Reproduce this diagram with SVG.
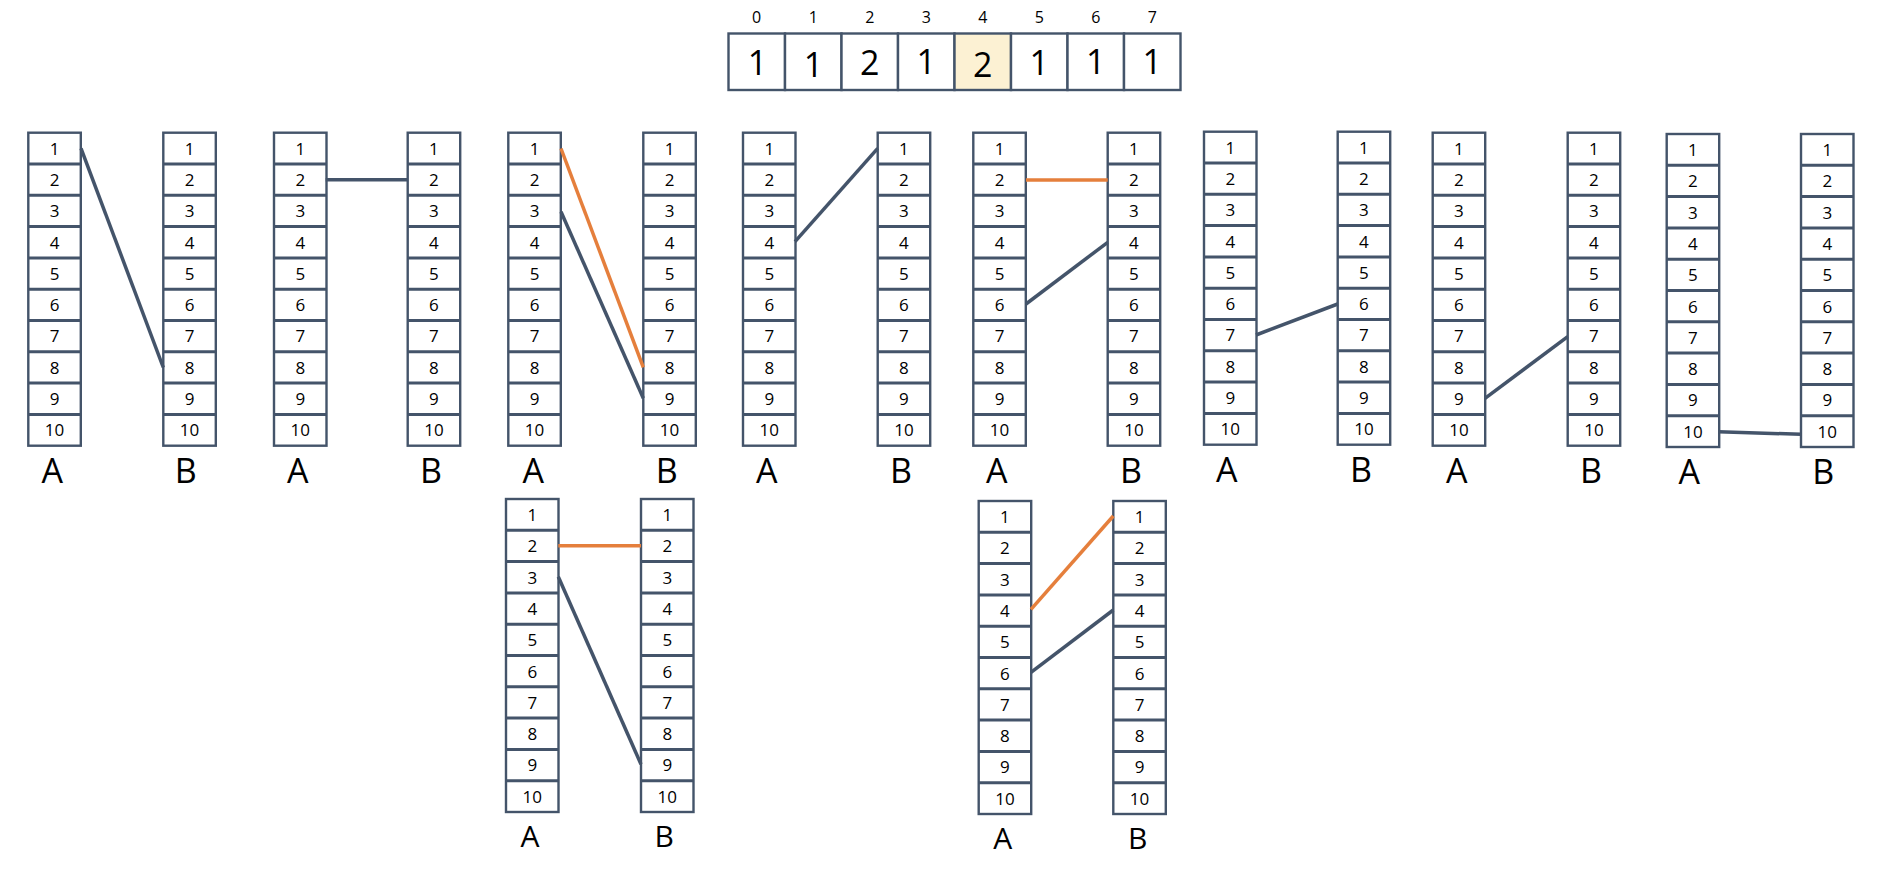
<svg xmlns="http://www.w3.org/2000/svg" width="1882" height="876" viewBox="0 0 1882 876">
<style>
.bg{fill:#fff}
.c{fill:#fff;stroke:#44546A;stroke-width:2.4}
.d{fill:none;stroke:#44546A;stroke-width:3}
.hl{fill:#FCF1D3}
.n{font-family:"Open Sans","Liberation Sans",sans-serif;font-size:17px;text-anchor:middle;fill:#000}
.idx{font-family:"Open Sans","Liberation Sans",sans-serif;font-size:16px;text-anchor:middle;fill:#000}
.big{font-family:"Open Sans","Liberation Sans",sans-serif;font-size:34px;text-anchor:middle;fill:#000}
.lbl{font-family:"Open Sans","Liberation Sans",sans-serif;font-size:34px;text-anchor:middle;fill:#000}
.lbl2{font-family:"Open Sans","Liberation Sans",sans-serif;font-size:30px;text-anchor:middle;fill:#000}
.ln{fill:none;stroke:#44546A;stroke-width:3.5}
.or{fill:none;stroke:#E57F3C;stroke-width:3.5}
</style>
<rect class="bg" x="0" y="0" width="1882" height="876"/>

<g id="array">
<text class="idx" x="756.7" y="23">0</text>
<text class="idx" x="813.3" y="23">1</text>
<text class="idx" x="869.8" y="23">2</text>
<text class="idx" x="926.3" y="23">3</text>
<text class="idx" x="982.8" y="23">4</text>
<text class="idx" x="1039.3" y="23">5</text>
<text class="idx" x="1095.8" y="23">6</text>
<text class="idx" x="1152.3" y="23">7</text>
<rect class="c" x="728.5" y="33.5" width="56.5" height="56.5"/>
<rect class="c" x="785" y="33.5" width="56.5" height="56.5"/>
<rect class="c" x="841.5" y="33.5" width="56.5" height="56.5"/>
<rect class="c" x="898" y="33.5" width="56.5" height="56.5"/>
<rect class="c hl" x="954.5" y="33.5" width="56.5" height="56.5"/>
<rect class="c" x="1011" y="33.5" width="56.5" height="56.5"/>
<rect class="c" x="1067.5" y="33.5" width="56.5" height="56.5"/>
<rect class="c" x="1124" y="33.5" width="56.5" height="56.5"/>
<text class="big" x="757.5" y="75">1</text>
<text class="big" x="813.5" y="77">1</text>
<text class="big" x="869.8" y="75">2</text>
<text class="big" x="926.3" y="74">1</text>
<text class="big" x="982.8" y="77">2</text>
<text class="big" x="1039.3" y="75">1</text>
<text class="big" x="1095.8" y="74">1</text>
<text class="big" x="1152.3" y="74">1</text>
</g>

<g id="p1-a" transform="translate(28.3,132.7)"><rect class="c" width="52.5" height="313"/><path class="d" d="M0 31.3H52.5M0 62.6H52.5M0 93.9H52.5M0 125.2H52.5M0 156.5H52.5M0 187.8H52.5M0 219.1H52.5M0 250.4H52.5M0 281.7H52.5"/><text class="n" x="26.25" y="22">1</text><text class="n" x="26.25" y="53.3">2</text><text class="n" x="26.25" y="84.6">3</text><text class="n" x="26.25" y="115.9">4</text><text class="n" x="26.25" y="147.2">5</text><text class="n" x="26.25" y="178.5">6</text><text class="n" x="26.25" y="209.8">7</text><text class="n" x="26.25" y="241.1">8</text><text class="n" x="26.25" y="272.4">9</text><text class="n" x="26.25" y="303.7">10</text></g>
<g id="p1-b" transform="translate(163.3,132.7)"><rect class="c" width="52.5" height="313"/><path class="d" d="M0 31.3H52.5M0 62.6H52.5M0 93.9H52.5M0 125.2H52.5M0 156.5H52.5M0 187.8H52.5M0 219.1H52.5M0 250.4H52.5M0 281.7H52.5"/><text class="n" x="26.25" y="22">1</text><text class="n" x="26.25" y="53.3">2</text><text class="n" x="26.25" y="84.6">3</text><text class="n" x="26.25" y="115.9">4</text><text class="n" x="26.25" y="147.2">5</text><text class="n" x="26.25" y="178.5">6</text><text class="n" x="26.25" y="209.8">7</text><text class="n" x="26.25" y="241.1">8</text><text class="n" x="26.25" y="272.4">9</text><text class="n" x="26.25" y="303.7">10</text></g>
<g id="p2-a" transform="translate(274,132.7)"><rect class="c" width="52.5" height="313"/><path class="d" d="M0 31.3H52.5M0 62.6H52.5M0 93.9H52.5M0 125.2H52.5M0 156.5H52.5M0 187.8H52.5M0 219.1H52.5M0 250.4H52.5M0 281.7H52.5"/><text class="n" x="26.25" y="22">1</text><text class="n" x="26.25" y="53.3">2</text><text class="n" x="26.25" y="84.6">3</text><text class="n" x="26.25" y="115.9">4</text><text class="n" x="26.25" y="147.2">5</text><text class="n" x="26.25" y="178.5">6</text><text class="n" x="26.25" y="209.8">7</text><text class="n" x="26.25" y="241.1">8</text><text class="n" x="26.25" y="272.4">9</text><text class="n" x="26.25" y="303.7">10</text></g>
<g id="p2-b" transform="translate(407.7,132.7)"><rect class="c" width="52.5" height="313"/><path class="d" d="M0 31.3H52.5M0 62.6H52.5M0 93.9H52.5M0 125.2H52.5M0 156.5H52.5M0 187.8H52.5M0 219.1H52.5M0 250.4H52.5M0 281.7H52.5"/><text class="n" x="26.25" y="22">1</text><text class="n" x="26.25" y="53.3">2</text><text class="n" x="26.25" y="84.6">3</text><text class="n" x="26.25" y="115.9">4</text><text class="n" x="26.25" y="147.2">5</text><text class="n" x="26.25" y="178.5">6</text><text class="n" x="26.25" y="209.8">7</text><text class="n" x="26.25" y="241.1">8</text><text class="n" x="26.25" y="272.4">9</text><text class="n" x="26.25" y="303.7">10</text></g>
<g id="p3-a" transform="translate(508.3,132.7)"><rect class="c" width="52.5" height="313"/><path class="d" d="M0 31.3H52.5M0 62.6H52.5M0 93.9H52.5M0 125.2H52.5M0 156.5H52.5M0 187.8H52.5M0 219.1H52.5M0 250.4H52.5M0 281.7H52.5"/><text class="n" x="26.25" y="22">1</text><text class="n" x="26.25" y="53.3">2</text><text class="n" x="26.25" y="84.6">3</text><text class="n" x="26.25" y="115.9">4</text><text class="n" x="26.25" y="147.2">5</text><text class="n" x="26.25" y="178.5">6</text><text class="n" x="26.25" y="209.8">7</text><text class="n" x="26.25" y="241.1">8</text><text class="n" x="26.25" y="272.4">9</text><text class="n" x="26.25" y="303.7">10</text></g>
<g id="p3-b" transform="translate(643.3,132.7)"><rect class="c" width="52.5" height="313"/><path class="d" d="M0 31.3H52.5M0 62.6H52.5M0 93.9H52.5M0 125.2H52.5M0 156.5H52.5M0 187.8H52.5M0 219.1H52.5M0 250.4H52.5M0 281.7H52.5"/><text class="n" x="26.25" y="22">1</text><text class="n" x="26.25" y="53.3">2</text><text class="n" x="26.25" y="84.6">3</text><text class="n" x="26.25" y="115.9">4</text><text class="n" x="26.25" y="147.2">5</text><text class="n" x="26.25" y="178.5">6</text><text class="n" x="26.25" y="209.8">7</text><text class="n" x="26.25" y="241.1">8</text><text class="n" x="26.25" y="272.4">9</text><text class="n" x="26.25" y="303.7">10</text></g>
<g id="p4-a" transform="translate(743,132.7)"><rect class="c" width="52.5" height="313"/><path class="d" d="M0 31.3H52.5M0 62.6H52.5M0 93.9H52.5M0 125.2H52.5M0 156.5H52.5M0 187.8H52.5M0 219.1H52.5M0 250.4H52.5M0 281.7H52.5"/><text class="n" x="26.25" y="22">1</text><text class="n" x="26.25" y="53.3">2</text><text class="n" x="26.25" y="84.6">3</text><text class="n" x="26.25" y="115.9">4</text><text class="n" x="26.25" y="147.2">5</text><text class="n" x="26.25" y="178.5">6</text><text class="n" x="26.25" y="209.8">7</text><text class="n" x="26.25" y="241.1">8</text><text class="n" x="26.25" y="272.4">9</text><text class="n" x="26.25" y="303.7">10</text></g>
<g id="p4-b" transform="translate(877.7,132.7)"><rect class="c" width="52.5" height="313"/><path class="d" d="M0 31.3H52.5M0 62.6H52.5M0 93.9H52.5M0 125.2H52.5M0 156.5H52.5M0 187.8H52.5M0 219.1H52.5M0 250.4H52.5M0 281.7H52.5"/><text class="n" x="26.25" y="22">1</text><text class="n" x="26.25" y="53.3">2</text><text class="n" x="26.25" y="84.6">3</text><text class="n" x="26.25" y="115.9">4</text><text class="n" x="26.25" y="147.2">5</text><text class="n" x="26.25" y="178.5">6</text><text class="n" x="26.25" y="209.8">7</text><text class="n" x="26.25" y="241.1">8</text><text class="n" x="26.25" y="272.4">9</text><text class="n" x="26.25" y="303.7">10</text></g>
<g id="p5-a" transform="translate(973.3,132.7)"><rect class="c" width="52.5" height="313"/><path class="d" d="M0 31.3H52.5M0 62.6H52.5M0 93.9H52.5M0 125.2H52.5M0 156.5H52.5M0 187.8H52.5M0 219.1H52.5M0 250.4H52.5M0 281.7H52.5"/><text class="n" x="26.25" y="22">1</text><text class="n" x="26.25" y="53.3">2</text><text class="n" x="26.25" y="84.6">3</text><text class="n" x="26.25" y="115.9">4</text><text class="n" x="26.25" y="147.2">5</text><text class="n" x="26.25" y="178.5">6</text><text class="n" x="26.25" y="209.8">7</text><text class="n" x="26.25" y="241.1">8</text><text class="n" x="26.25" y="272.4">9</text><text class="n" x="26.25" y="303.7">10</text></g>
<g id="p5-b" transform="translate(1107.7,132.7)"><rect class="c" width="52.5" height="313"/><path class="d" d="M0 31.3H52.5M0 62.6H52.5M0 93.9H52.5M0 125.2H52.5M0 156.5H52.5M0 187.8H52.5M0 219.1H52.5M0 250.4H52.5M0 281.7H52.5"/><text class="n" x="26.25" y="22">1</text><text class="n" x="26.25" y="53.3">2</text><text class="n" x="26.25" y="84.6">3</text><text class="n" x="26.25" y="115.9">4</text><text class="n" x="26.25" y="147.2">5</text><text class="n" x="26.25" y="178.5">6</text><text class="n" x="26.25" y="209.8">7</text><text class="n" x="26.25" y="241.1">8</text><text class="n" x="26.25" y="272.4">9</text><text class="n" x="26.25" y="303.7">10</text></g>
<g id="p6-a" transform="translate(1204,131.7)"><rect class="c" width="52.5" height="313"/><path class="d" d="M0 31.3H52.5M0 62.6H52.5M0 93.9H52.5M0 125.2H52.5M0 156.5H52.5M0 187.8H52.5M0 219.1H52.5M0 250.4H52.5M0 281.7H52.5"/><text class="n" x="26.25" y="22">1</text><text class="n" x="26.25" y="53.3">2</text><text class="n" x="26.25" y="84.6">3</text><text class="n" x="26.25" y="115.9">4</text><text class="n" x="26.25" y="147.2">5</text><text class="n" x="26.25" y="178.5">6</text><text class="n" x="26.25" y="209.8">7</text><text class="n" x="26.25" y="241.1">8</text><text class="n" x="26.25" y="272.4">9</text><text class="n" x="26.25" y="303.7">10</text></g>
<g id="p6-b" transform="translate(1337.7,131.7)"><rect class="c" width="52.5" height="313"/><path class="d" d="M0 31.3H52.5M0 62.6H52.5M0 93.9H52.5M0 125.2H52.5M0 156.5H52.5M0 187.8H52.5M0 219.1H52.5M0 250.4H52.5M0 281.7H52.5"/><text class="n" x="26.25" y="22">1</text><text class="n" x="26.25" y="53.3">2</text><text class="n" x="26.25" y="84.6">3</text><text class="n" x="26.25" y="115.9">4</text><text class="n" x="26.25" y="147.2">5</text><text class="n" x="26.25" y="178.5">6</text><text class="n" x="26.25" y="209.8">7</text><text class="n" x="26.25" y="241.1">8</text><text class="n" x="26.25" y="272.4">9</text><text class="n" x="26.25" y="303.7">10</text></g>
<g id="p7-a" transform="translate(1432.7,132.7)"><rect class="c" width="52.5" height="313"/><path class="d" d="M0 31.3H52.5M0 62.6H52.5M0 93.9H52.5M0 125.2H52.5M0 156.5H52.5M0 187.8H52.5M0 219.1H52.5M0 250.4H52.5M0 281.7H52.5"/><text class="n" x="26.25" y="22">1</text><text class="n" x="26.25" y="53.3">2</text><text class="n" x="26.25" y="84.6">3</text><text class="n" x="26.25" y="115.9">4</text><text class="n" x="26.25" y="147.2">5</text><text class="n" x="26.25" y="178.5">6</text><text class="n" x="26.25" y="209.8">7</text><text class="n" x="26.25" y="241.1">8</text><text class="n" x="26.25" y="272.4">9</text><text class="n" x="26.25" y="303.7">10</text></g>
<g id="p7-b" transform="translate(1567.7,132.7)"><rect class="c" width="52.5" height="313"/><path class="d" d="M0 31.3H52.5M0 62.6H52.5M0 93.9H52.5M0 125.2H52.5M0 156.5H52.5M0 187.8H52.5M0 219.1H52.5M0 250.4H52.5M0 281.7H52.5"/><text class="n" x="26.25" y="22">1</text><text class="n" x="26.25" y="53.3">2</text><text class="n" x="26.25" y="84.6">3</text><text class="n" x="26.25" y="115.9">4</text><text class="n" x="26.25" y="147.2">5</text><text class="n" x="26.25" y="178.5">6</text><text class="n" x="26.25" y="209.8">7</text><text class="n" x="26.25" y="241.1">8</text><text class="n" x="26.25" y="272.4">9</text><text class="n" x="26.25" y="303.7">10</text></g>
<g id="p8-a" transform="translate(1666.7,134)"><rect class="c" width="52.5" height="313"/><path class="d" d="M0 31.3H52.5M0 62.6H52.5M0 93.9H52.5M0 125.2H52.5M0 156.5H52.5M0 187.8H52.5M0 219.1H52.5M0 250.4H52.5M0 281.7H52.5"/><text class="n" x="26.25" y="22">1</text><text class="n" x="26.25" y="53.3">2</text><text class="n" x="26.25" y="84.6">3</text><text class="n" x="26.25" y="115.9">4</text><text class="n" x="26.25" y="147.2">5</text><text class="n" x="26.25" y="178.5">6</text><text class="n" x="26.25" y="209.8">7</text><text class="n" x="26.25" y="241.1">8</text><text class="n" x="26.25" y="272.4">9</text><text class="n" x="26.25" y="303.7">10</text></g>
<g id="p8-b" transform="translate(1801,134)"><rect class="c" width="52.5" height="313"/><path class="d" d="M0 31.3H52.5M0 62.6H52.5M0 93.9H52.5M0 125.2H52.5M0 156.5H52.5M0 187.8H52.5M0 219.1H52.5M0 250.4H52.5M0 281.7H52.5"/><text class="n" x="26.25" y="22">1</text><text class="n" x="26.25" y="53.3">2</text><text class="n" x="26.25" y="84.6">3</text><text class="n" x="26.25" y="115.9">4</text><text class="n" x="26.25" y="147.2">5</text><text class="n" x="26.25" y="178.5">6</text><text class="n" x="26.25" y="209.8">7</text><text class="n" x="26.25" y="241.1">8</text><text class="n" x="26.25" y="272.4">9</text><text class="n" x="26.25" y="303.7">10</text></g>
<g id="q1-a" transform="translate(506,499)"><rect class="c" width="52.5" height="313"/><path class="d" d="M0 31.3H52.5M0 62.6H52.5M0 93.9H52.5M0 125.2H52.5M0 156.5H52.5M0 187.8H52.5M0 219.1H52.5M0 250.4H52.5M0 281.7H52.5"/><text class="n" x="26.25" y="22">1</text><text class="n" x="26.25" y="53.3">2</text><text class="n" x="26.25" y="84.6">3</text><text class="n" x="26.25" y="115.9">4</text><text class="n" x="26.25" y="147.2">5</text><text class="n" x="26.25" y="178.5">6</text><text class="n" x="26.25" y="209.8">7</text><text class="n" x="26.25" y="241.1">8</text><text class="n" x="26.25" y="272.4">9</text><text class="n" x="26.25" y="303.7">10</text></g>
<g id="q1-b" transform="translate(641,499)"><rect class="c" width="52.5" height="313"/><path class="d" d="M0 31.3H52.5M0 62.6H52.5M0 93.9H52.5M0 125.2H52.5M0 156.5H52.5M0 187.8H52.5M0 219.1H52.5M0 250.4H52.5M0 281.7H52.5"/><text class="n" x="26.25" y="22">1</text><text class="n" x="26.25" y="53.3">2</text><text class="n" x="26.25" y="84.6">3</text><text class="n" x="26.25" y="115.9">4</text><text class="n" x="26.25" y="147.2">5</text><text class="n" x="26.25" y="178.5">6</text><text class="n" x="26.25" y="209.8">7</text><text class="n" x="26.25" y="241.1">8</text><text class="n" x="26.25" y="272.4">9</text><text class="n" x="26.25" y="303.7">10</text></g>
<g id="q2-a" transform="translate(978.7,501)"><rect class="c" width="52.5" height="313"/><path class="d" d="M0 31.3H52.5M0 62.6H52.5M0 93.9H52.5M0 125.2H52.5M0 156.5H52.5M0 187.8H52.5M0 219.1H52.5M0 250.4H52.5M0 281.7H52.5"/><text class="n" x="26.25" y="22">1</text><text class="n" x="26.25" y="53.3">2</text><text class="n" x="26.25" y="84.6">3</text><text class="n" x="26.25" y="115.9">4</text><text class="n" x="26.25" y="147.2">5</text><text class="n" x="26.25" y="178.5">6</text><text class="n" x="26.25" y="209.8">7</text><text class="n" x="26.25" y="241.1">8</text><text class="n" x="26.25" y="272.4">9</text><text class="n" x="26.25" y="303.7">10</text></g>
<g id="q2-b" transform="translate(1113.3,501)"><rect class="c" width="52.5" height="313"/><path class="d" d="M0 31.3H52.5M0 62.6H52.5M0 93.9H52.5M0 125.2H52.5M0 156.5H52.5M0 187.8H52.5M0 219.1H52.5M0 250.4H52.5M0 281.7H52.5"/><text class="n" x="26.25" y="22">1</text><text class="n" x="26.25" y="53.3">2</text><text class="n" x="26.25" y="84.6">3</text><text class="n" x="26.25" y="115.9">4</text><text class="n" x="26.25" y="147.2">5</text><text class="n" x="26.25" y="178.5">6</text><text class="n" x="26.25" y="209.8">7</text><text class="n" x="26.25" y="241.1">8</text><text class="n" x="26.25" y="272.4">9</text><text class="n" x="26.25" y="303.7">10</text></g>

<g id="labels">
<text class="lbl" x="52.3" y="482.5">A</text>
<text class="lbl" x="185.7" y="482.5">B</text>
<text class="lbl" x="297.7" y="482.5">A</text>
<text class="lbl" x="431" y="482.5">B</text>
<text class="lbl" x="533.3" y="482.5">A</text>
<text class="lbl" x="666.7" y="482.5">B</text>
<text class="lbl" x="766.7" y="482.5">A</text>
<text class="lbl" x="901" y="482.5">B</text>
<text class="lbl" x="996.7" y="482.5">A</text>
<text class="lbl" x="1131" y="482.5">B</text>
<text class="lbl" x="1226.7" y="481.7">A</text>
<text class="lbl" x="1361" y="481.7">B</text>
<text class="lbl" x="1456.7" y="482.5">A</text>
<text class="lbl" x="1591" y="482.5">B</text>
<text class="lbl" x="1689.3" y="483.5">A</text>
<text class="lbl" x="1823.3" y="483.5">B</text>
<text class="lbl2" x="530" y="847">A</text>
<text class="lbl2" x="664.3" y="847">B</text>
<text class="lbl2" x="1002.7" y="849">A</text>
<text class="lbl2" x="1137.7" y="849">B</text>
</g>

<g id="connectors">
<path class="ln" d="M81 148.3L163.3 367.5"/>
<path class="ln" d="M325.7 179.7H407.7"/>
<path class="or" d="M561 148.5L643.3 367.3"/>
<path class="ln" d="M561 211.7L643.3 398.3"/>
<path class="ln" d="M795 241.7L877.7 148.3"/>
<path class="or" d="M1026 180H1107.7"/>
<path class="ln" d="M1026 304L1107.7 242.3"/>
<path class="ln" d="M1256 335L1337.7 304"/>
<path class="ln" d="M1485 398.3L1567.7 336.7"/>
<path class="ln" d="M1718.3 431.7L1801 434.3"/>
<path class="or" d="M558.3 545.7H641"/>
<path class="ln" d="M558.3 576.7L641 764.3"/>
<path class="or" d="M1031 609.3L1113.3 516"/>
<path class="ln" d="M1031 672.3L1113.3 610"/>
</g>
</svg>
